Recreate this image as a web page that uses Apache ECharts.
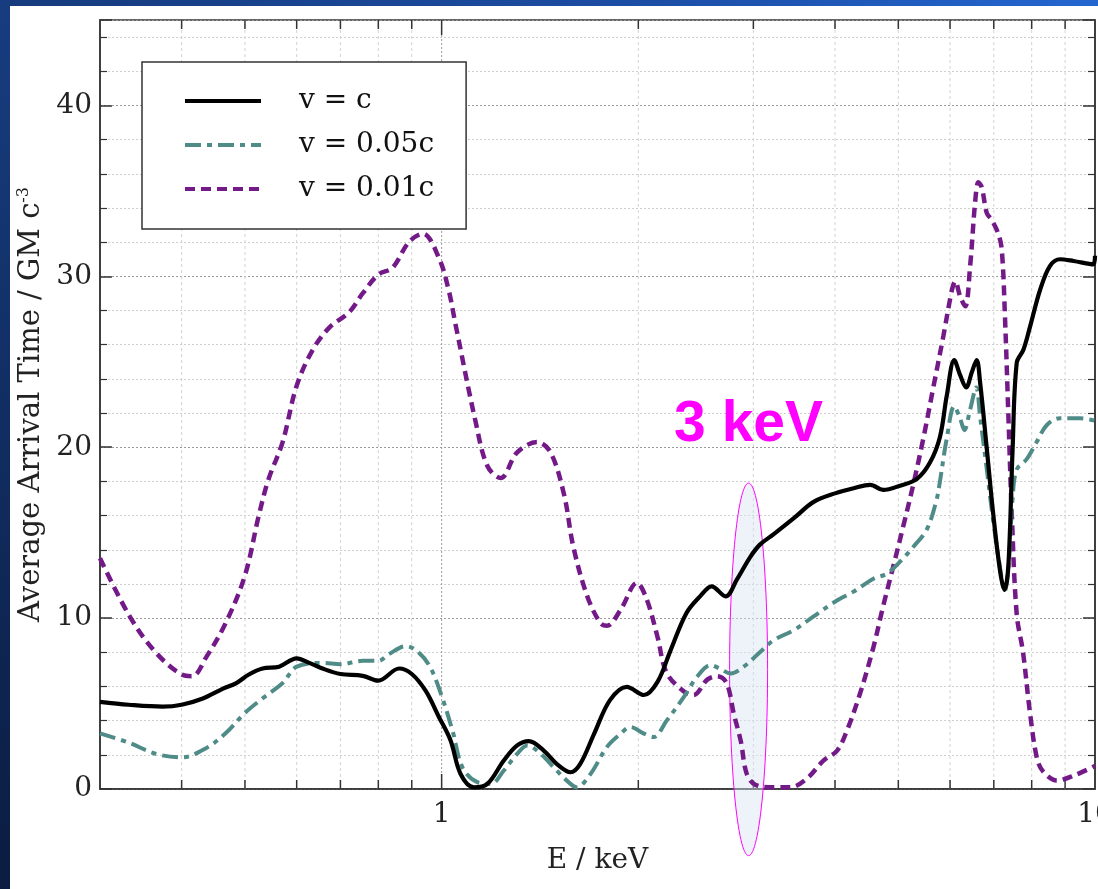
<!DOCTYPE html>
<html><head><meta charset="utf-8">
<script src="https://cdn.jsdelivr.net/npm/echarts@6/dist/echarts.min.js"></script>
<style>
html,body{margin:0;padding:0;width:1098px;height:889px;overflow:hidden;background:#0c1f45;}
#topbar{position:absolute;left:0;top:0;width:1098px;height:6px;background:linear-gradient(90deg,#163a7c,#1c4ea6 60%,#2366d0);}
#leftbar{position:absolute;left:0;top:0;width:10px;height:889px;background:linear-gradient(180deg,#173d80,#0b1c40);}
#panel{position:absolute;left:10px;top:6px;right:0;bottom:0;background:#fff;}
#chart{position:absolute;left:0;top:0;width:1098px;height:889px;}
</style></head>
<body>
<div id="topbar"></div><div id="leftbar"></div><div id="panel"></div>
<div id="chart"></div>
<script>
// ---- data ----
const seriesNames = ['v = c', 'v = 0.05c', 'v = 0.01c'];

const energyVc = [0.30,0.332,0.374,0.40,0.431,0.462,0.485,0.507,0.532,0.564,0.60,0.627,0.657,0.70,0.757,0.80,0.861,0.90,0.945,0.99,1.032,1.069,1.12,1.175,1.245,1.305,1.36,1.433,1.50,1.575,1.63,1.71,1.81,1.92,2.04,2.14,2.24,2.37,2.49,2.59,2.72,2.83,2.97,3.07,3.22,3.46,3.71,4.0,4.27,4.53,4.74,5.03,5.34,5.59,5.79,5.93,6.09,6.22,6.35,6.48,6.59,6.67,6.83,6.99,7.16,7.27,7.37,7.48,7.59,7.77,7.96,8.24,8.53,8.84,9.27,9.94,10.0];
const timeVc   = [5.1,4.93,4.82,4.93,5.3,5.86,6.2,6.7,7.05,7.16,7.64,7.38,7.05,6.73,6.62,6.34,7.05,6.73,5.75,4.23,2.84,0.88,0.1,0.3,1.67,2.55,2.8,2.25,1.47,0.98,1.47,3.2,5.2,5.98,5.5,6.27,8.1,10.3,11.3,11.86,11.27,12.25,13.6,14.3,14.9,15.85,16.8,17.3,17.6,17.8,17.5,17.75,18.15,19.1,20.6,23.0,25.1,24.2,23.5,24.4,25.1,23.8,19.9,16.0,12.7,11.65,13.1,19.9,24.95,25.7,27.1,29.2,30.6,31.0,30.9,30.7,31.2];

const energyV005 = [0.30,0.332,0.365,0.40,0.436,0.467,0.50,0.532,0.571,0.60,0.657,0.70,0.757,0.80,0.831,0.881,0.912,0.956,0.997,1.041,1.076,1.134,1.19,1.245,1.305,1.352,1.417,1.50,1.575,1.61,1.69,1.79,1.88,1.945,2.04,2.11,2.21,2.35,2.46,2.58,2.66,2.77,2.90,3.07,3.22,3.46,3.71,4.0,4.27,4.58,4.80,5.03,5.28,5.53,5.72,5.79,5.93,6.09,6.22,6.31,6.44,6.58,6.67,6.83,6.99,7.16,7.27,7.37,7.48,7.59,7.86,8.14,8.44,8.84,9.48,10.0];
const timeV005   = [3.26,2.71,2.06,1.85,2.39,3.26,4.45,5.3,6.2,7.16,7.38,7.3,7.5,7.5,7.9,8.36,8.14,7.27,5.6,3.3,1.27,0.4,0.3,1.08,2.06,2.55,2.06,1.08,0.3,0.1,0.88,2.45,3.24,3.63,3.24,3.04,4.0,5.4,6.57,7.25,7.06,6.76,7.16,8.0,8.7,9.3,10.1,10.96,11.55,12.3,12.6,13.3,14.2,15.2,16.9,18.0,20.5,22.4,21.65,21.0,22.2,23.5,21.8,18.7,15.6,12.9,11.55,12.9,17.0,18.7,19.3,20.3,21.3,21.7,21.7,21.55];

const energyV001 = [0.30,0.332,0.363,0.40,0.415,0.436,0.467,0.50,0.525,0.543,0.571,0.60,0.635,0.673,0.722,0.757,0.80,0.841,0.891,0.936,0.99,1.025,1.05,1.127,1.175,1.231,1.305,1.40,1.468,1.54,1.59,1.67,1.75,1.79,1.88,1.99,2.06,2.14,2.21,2.35,2.43,2.55,2.64,2.73,2.80,2.87,2.93,3.02,3.22,3.42,3.62,3.84,4.03,4.17,4.37,4.58,4.74,4.91,5.09,5.27,5.46,5.65,5.86,6.04,6.11,6.22,6.33,6.44,6.56,6.63,6.71,6.83,6.95,7.11,7.20,7.28,7.37,7.46,7.59,7.76,7.95,8.15,8.34,8.75,9.3,10.0];
const timeV001   = [13.5,10.2,8.1,6.7,6.6,7.7,9.7,12.5,16.0,18.1,20.3,23.6,25.7,27.0,27.9,29.0,30.1,30.5,32.0,32.5,31.1,29.2,27.2,21.5,18.9,18.2,19.7,20.3,19.7,17.2,14.2,11.3,9.7,9.55,10.5,12.06,11.1,8.9,6.8,5.7,5.5,6.4,6.6,6.2,4.4,2.8,0.9,0.25,0.1,0.1,0.6,1.66,2.25,3.4,5.6,8.3,10.7,13.0,15.4,17.8,20.5,23.4,26.5,29.2,29.7,28.8,28.25,30.6,34.5,35.5,35.2,33.7,33.3,32.5,31.55,27.7,21.8,16.0,10.2,8.0,4.5,1.8,1.0,0.5,0.8,1.35];

const xMinorTicks = [0.4,0.5,0.6,0.7,0.8,0.9,2,3,4,5,6,7,8,9];
const xMajorTicks = [1];
const xLabelValues = [1, 10];

const annotText = '3 keV';
const annotE = 2.95;      // keV, centre of the highlighted band
const annotTextT = 21.3;  // position of the label
const ellipseCenterT = 7.0;
const ellipseTopT = 17.9;

// ---- chart ----
function zip(a, b) { return a.map((e, i) => [e, b[i]]); }
const FONT = 'DejaVu Serif';
const chart = echarts.init(document.getElementById('chart'), null, {renderer: 'canvas'});

const tickData = xMinorTicks.map(v => [v, 0]).concat(xMajorTicks.map(v => [v, 1]));

const option = {
  animation: false,
  backgroundColor: 'transparent',
  grid: {left: 100, top: 20, right: 3, bottom: 100, outerBoundsMode: 'none', containLabel: false,
         show: true, borderColor: '#333', borderWidth: 1.5, backgroundColor: 'transparent'},
  legend: {
    show: true, orient: 'vertical', left: 142, top: 62,
    data: seriesNames,
    itemWidth: 76, itemHeight: 14, itemGap: 14,
    padding: [24, 32, 25, 41],
    backgroundColor: '#fff', borderColor: '#333', borderWidth: 1.5,
    itemStyle: {opacity: 0},
    lineStyle: {width: 4},
    textStyle: {fontFamily: FONT, fontSize: 28, color: '#111', lineHeight: 30, padding: [0, 0, 0, 33]}
  },
  xAxis: [{
    type: 'log', logBase: 10, min: 0.3, max: 10,
    name: 'E / keV', nameLocation: 'middle', nameGap: 58,
    nameTextStyle: {fontFamily: FONT, fontSize: 28, color: '#222'},
    axisLine: {show: true, lineStyle: {color: '#333', width: 1.5}},
    axisTick: {show: false}, splitLine: {show: false},
    axisLabel: {fontFamily: FONT, fontSize: 28, color: '#222', margin: 12,
      formatter: v => xLabelValues.some(t => Math.abs(v - t) < 1e-6) ? String(Math.round(v)) : ''}
  }],
  yAxis: [{
    type: 'value', min: 0, max: 45, interval: 10, position: 'left',
    axisLine: {show: true, lineStyle: {color: '#333', width: 1.5}},
    axisTick: {show: true, inside: true, length: 12, lineStyle: {color: '#333', width: 1.5}},
    minorTick: {show: true, splitNumber: 5, length: 7, lineStyle: {color: '#333', width: 1.2}},
    splitLine: {show: true, lineStyle: {color: '#9a9a9a', type: [2, 2], width: 1}},
    minorSplitLine: {show: true, lineStyle: {color: '#cfcfcf', type: [2, 2], width: 1}},
    axisLabel: {fontFamily: FONT, fontSize: 28, color: '#222', margin: 8, showMaxLabel: false},
    name: '{a|Average Arrival Time / GM c}{s|-3}', nameLocation: 'middle', nameGap: 52,
    nameTextStyle: {rich: {
      a: {fontFamily: FONT, fontSize: 29, color: '#222'},
      s: {fontFamily: FONT, fontSize: 16, color: '#222', verticalAlign: 'top', padding: [0, 0, 14, 0]}
    }}
  }, {
    type: 'value', min: 0, max: 45, interval: 10, position: 'right',
    axisLine: {show: true, lineStyle: {color: '#333', width: 1.5}},
    axisTick: {show: true, inside: true, length: 12, lineStyle: {color: '#333', width: 1.5}},
    minorTick: {show: true, splitNumber: 5, length: 7, lineStyle: {color: '#333', width: 1.2}},
    splitLine: {show: false}, axisLabel: {show: false}
  }],
  series: [
    {
      name: 'xticks', type: 'custom', z: 1, silent: true, data: tickData,
      encode: {x: 0, y: 1},
      renderItem: function (params, api) {
        const v = api.value(0), major = api.value(1) === 1;
        const b = api.coord([v, 0]), t = api.coord([v, 45]);
        const len = major ? 15 : 9;
        return {type: 'group', children: [
          {type: 'line', shape: {x1: b[0], y1: b[1], x2: t[0], y2: t[1]},
           style: {stroke: major ? '#9a9a9a' : '#d2d2d2', lineWidth: 1, lineDash: major ? [2, 2] : [3, 3]}},
          {type: 'line', shape: {x1: b[0], y1: b[1], x2: b[0], y2: b[1] - len}, style: {stroke: '#333', lineWidth: 1.5}},
          {type: 'line', shape: {x1: t[0], y1: t[1], x2: t[0], y2: t[1] + len}, style: {stroke: '#333', lineWidth: 1.5}}
        ]};
      }
    },
    {name: seriesNames[0], type: 'line', z: 5, data: zip(energyVc, timeVc), symbol: 'none', smooth: 0.35,
     lineStyle: {color: '#000', width: 4.2, type: 'solid'}, itemStyle: {color: '#000'}},
    {name: seriesNames[1], type: 'line', z: 4, data: zip(energyV005, timeV005), symbol: 'none', smooth: 0.35,
     lineStyle: {color: '#4f8c88', width: 4, type: [16, 6, 5, 6]}, itemStyle: {color: '#4f8c88'}},
    {name: seriesNames[2], type: 'line', z: 3, data: zip(energyV001, timeV001), symbol: 'none', smooth: 0.35,
     lineStyle: {color: '#731a88', width: 4.5, type: [10, 6]}, itemStyle: {color: '#731a88'}}
  ]
};
chart.setOption(option);

// annotation: ellipse band and label anchored at 3 keV
const cenPx = chart.convertToPixel({xAxisIndex: 0, yAxisIndex: 0}, [annotE, ellipseCenterT]);
const topPx = chart.convertToPixel({xAxisIndex: 0, yAxisIndex: 0}, [annotE, ellipseTopT]);
const labPx = chart.convertToPixel({xAxisIndex: 0, yAxisIndex: 0}, [annotE, annotTextT]);
const ellRy = cenPx[1] - topPx[1], ellRx = 19;
const ellPts = [];
for (let i = 0; i < 120; i++) {
  const a = i / 120 * Math.PI * 2;
  ellPts.push([cenPx[0] + ellRx * Math.cos(a), cenPx[1] + ellRy * Math.sin(a)]);
}
chart.setOption({graphic: [
  {type: 'polygon', z: 2, shape: {points: ellPts}, style: {fill: 'rgba(214,228,242,0.45)', stroke: '#ff00ff', lineWidth: 1}},
  {type: 'text', z: 10, x: labPx[0], y: labPx[1], style: {text: annotText, fill: '#ff00ff', fontSize: 57, fontWeight: 'bold', fontFamily: 'Liberation Sans', align: 'center', verticalAlign: 'middle'}}
]});
</script>
</body></html>
